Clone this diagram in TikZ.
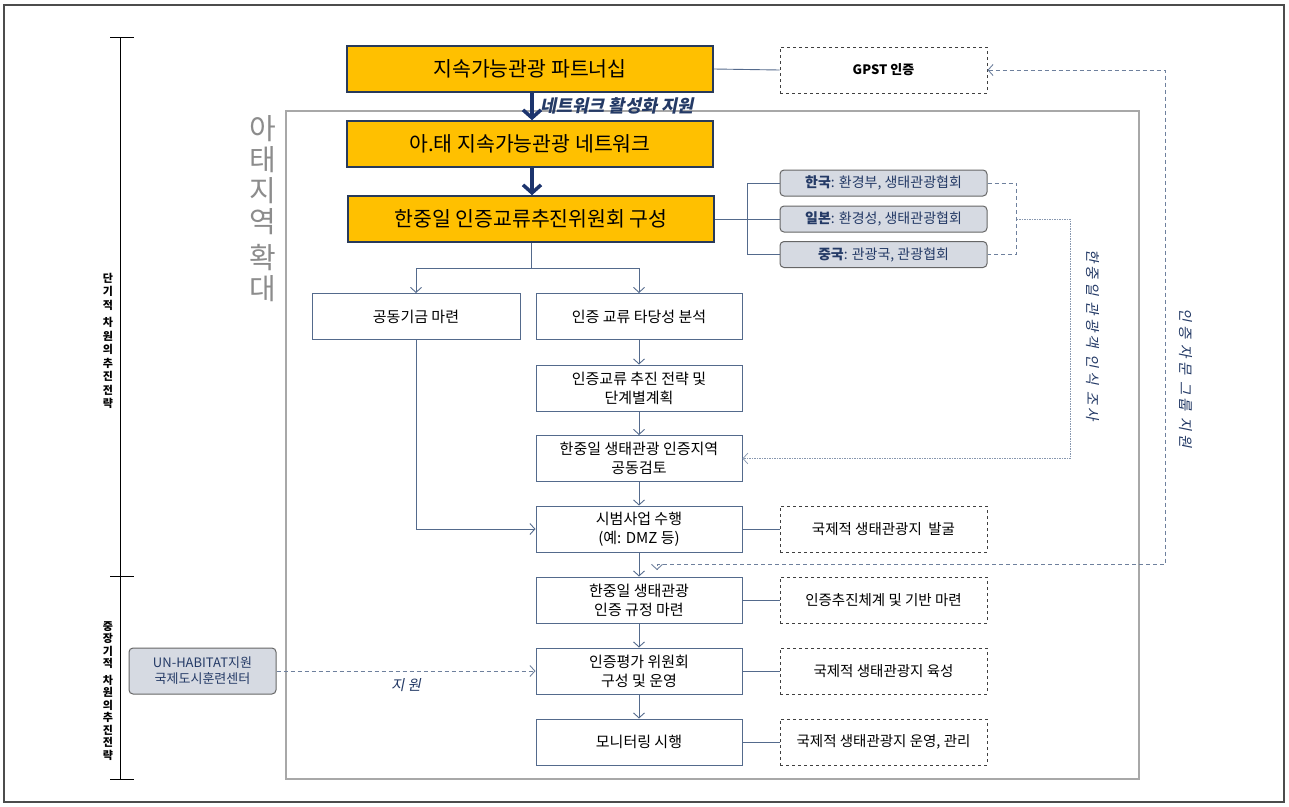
\documentclass[tikz,border=0pt]{standalone}
\usepackage{fontspec}
\setmainfont{Noto Sans CJK KR}
\newfontfamily\slantkr{Noto Sans CJK KR}[FakeSlant=0.2]
\newfontfamily\spacedkr{Noto Sans CJK KR}[FakeSlant=0.2, LetterSpace=22]
\usetikzlibrary{arrows.meta}
\definecolor{boxorange}{RGB}{255,192,0}
\definecolor{navyline}{RGB}{40,58,90}
\definecolor{linec}{RGB}{84,106,140}
\definecolor{orggray}{RGB}{214,218,226}
\definecolor{framegray}{RGB}{168,168,168}
\definecolor{labelblue}{RGB}{36,58,102}
\definecolor{bigarrowc}{RGB}{28,52,110}

\begin{document}
\begin{tikzpicture}[x=1pt, y=-1pt,
		mainbox/.style={draw=navyline, line width=1.6pt, fill=boxorange, minimum width=366pt, minimum height=46pt, font=\fontsize{20.5}{24}\selectfont},
		stepbox/.style={draw=linec, line width=1pt, fill=white, minimum width=206pt, minimum height=46pt, align=center, font=\fontsize{15}{19}\selectfont},
		sidebox/.style={draw=black!75, dashed, line width=0.9pt, minimum width=207pt, minimum height=46pt, align=center, font=\fontsize{14.5}{18}\selectfont},
		orgbox/.style={draw=black!60, line width=1pt, rounded corners=4pt, fill=orggray, minimum width=207pt, minimum height=26pt, align=center, font=\fontsize{14}{16}\selectfont, text=labelblue},
		link/.style={draw=linec, line width=0.9pt},
		arrowlink/.style={link, -{Straight Barb[length=5pt, width=11pt]}},
		dashlink/.style={draw=linec!85, line width=0.9pt, dash pattern=on 4pt off 3pt},
		surveylink/.style={draw=linec!70, line width=0.7pt, dash pattern=on 1.5pt off 1pt},
		bigarrow/.style={draw=bigarrowc, line width=3.5pt, -{Straight Barb[length=8pt, width=18pt]}},
		bluelabel/.style={text=labelblue, font=\fontsize{14.5}{17}\selectfont}
	]
	\useasboundingbox (0,0) rectangle (1289,806);
	\draw[black!70, line width=1.2pt] (4,5) rectangle (1284,802);
	\draw[framegray, line width=2.5pt] (286,111) rectangle (1139,779);

	\draw[line width=0.8pt] (120,37) -- (120,779);
	\draw[line width=0.8pt] (110,37) -- (134,37);
	\draw[line width=0.8pt] (110,576) -- (134,576);
	\draw[line width=0.8pt] (110,779) -- (134,779);
	\node[align=center, font=\fontsize{11}{13.5}\selectfont\bfseries] (shortterm) at (108,341) {단\\기\\적\\[4pt]차\\원\\의\\추\\진\\전\\략};
	\node[align=center, font=\fontsize{11}{12.5}\selectfont\bfseries] (longterm) at (108,691) {중\\장\\기\\적\\[4pt]차\\원\\의\\추\\진\\전\\략};
	\node[align=center, text=black!45, font=\fontsize{29}{31}\selectfont] (asiapac) at (263,209) {아\\태\\지\\역\\[5pt]확\\대};

	\node[mainbox] (partner) at (530,69) {지속가능관광 파트너십};
	\node[mainbox] (network) at (530,144) {아.태 지속가능관광 네트워크};
	\node[mainbox] (committee) at (531,219) {한중일 인증교류추진위원회 구성};
	\node[sidebox, font=\fontsize{13}{16}\selectfont\bfseries] (gpst) at (883.5,70) {GPST 인증};

	\node[orgbox] (korea) at (883.5,183) {\textbf{한국}: 환경부, 생태관광협회};
	\node[orgbox] (japan) at (883.5,219) {\textbf{일본}: 환경성, 생태관광협회};
	\node[orgbox] (china) at (883.5,254.5) {\textbf{중국}: 관광국, 관광협회};

	\node[stepbox, minimum width=208pt] (fund) at (416,316.5) {공동기금 마련};
	\node[stepbox] (feas) at (639,316.5) {인증 교류 타당성 분석};
	\node[stepbox] (plan) at (639,388) {인증교류 추진 전략 및\\단계별계획};
	\node[stepbox] (review) at (639,458.5) {한중일 생태관광 인증지역\\공동검토};
	\node[stepbox] (pilot) at (639,529) {시범사업 수행\\(예: DMZ 등)};
	\node[stepbox] (rule) at (639,600) {한중일 생태관광\\인증 규정 마련};
	\node[stepbox] (eval) at (639,671) {인증평가 위원회\\구성 및 운영};
	\node[stepbox] (monitor) at (639,742) {모니터링 시행};

	\node[sidebox] (find) at (883.5,529) {국제적 생태관광지\ \ 발굴};
	\node[sidebox] (base) at (883.5,600) {인증추진체계 및 기반 마련};
	\node[sidebox] (foster) at (883.5,671) {국제적 생태관광지 육성};
	\node[sidebox] (manage) at (883.5,742) {국제적 생태관광지 운영, 관리};

	\node[orgbox, minimum width=147pt, minimum height=46pt, font=\fontsize{13}{16}\selectfont] (habitat) at (202.5,671) {UN-HABITAT지원\\국제도시훈련센터};

	\draw[bigarrow] (partner.south -| 532,0) -- (network.north -| 532,0);
	\draw[bigarrow] (network.south -| 532,0) -- (committee.north -| 532,0);
	\node[bluelabel, font=\fontsize{17.5}{20}\selectfont\bfseries, anchor=west] (activate) at (537,106) {\slantkr 네트워크 활성화 지원};

	\draw[link] (partner.east) -- (gpst.west);
	\draw[link] (committee.east) -- (japan.west);
	\draw[link] (korea.west) -- ++(-32,0) |- (china.west);
	\draw[dashlink] (korea.east) -- ++(29,0) coordinate (rightbrk) |- (china.east);
	\draw[surveylink, -{Straight Barb[length=5pt, width=11pt]}] (rightbrk |- japan.east) -| (1070,458.5) -- (review.east);
	\node[bluelabel, rotate=-90] (survey) at (1093,335) {\spacedkr 한중일 관광객 인식 조사};

	\draw[dashlink, {Straight Barb[length=5pt, width=11pt]}-{Straight Barb[length=5pt, width=11pt]}] (gpst.east) -| (1165,564) -| (657,570);
	\node[bluelabel, rotate=-90] (advisory) at (1186,378) {\spacedkr 인증 자문 그룹 지원};

	\draw[link] (committee.south) -- ++(0,26) coordinate (split);
	\draw[arrowlink] (split) -| (fund.north);
	\draw[arrowlink] (split) -| (feas.north);
	\draw[arrowlink] (fund.south) |- (pilot.west);
	\draw[arrowlink] (feas) -- (plan);
	\draw[arrowlink] (plan) -- (review);
	\draw[arrowlink] (review) -- (pilot);
	\draw[arrowlink] (pilot) -- (rule);
	\draw[arrowlink] (rule) -- (eval);
	\draw[arrowlink] (eval) -- (monitor);

	\draw[link] (pilot) -- (find);
	\draw[link] (rule) -- (base);
	\draw[link] (eval) -- (foster);
	\draw[link] (monitor) -- (manage);

	\draw[dashlink, -{Straight Barb[length=5pt, width=11pt]}] (habitat) -- (eval) node[bluelabel, midway, below=4pt] (support) {\slantkr 지 원};
\end{tikzpicture}
\end{document}
